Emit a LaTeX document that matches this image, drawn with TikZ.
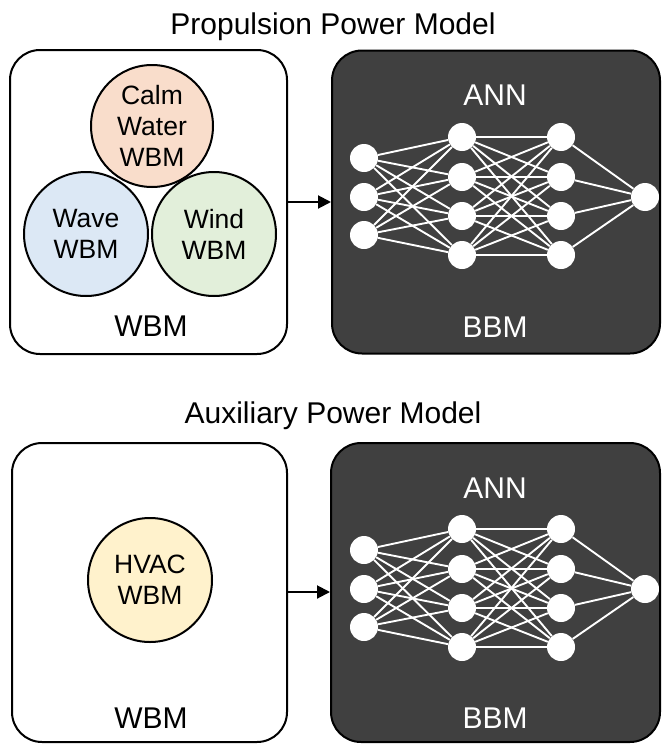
\documentclass[tikz,border=0pt]{standalone}
\usepackage{fontspec}
\setmainfont{Liberation Sans}
\usetikzlibrary{arrows.meta}

\definecolor{calmfill}{HTML}{F9DDCB}
\definecolor{wavefill}{HTML}{DCE8F5}
\definecolor{windfill}{HTML}{E2EFDA}
\definecolor{hvacfill}{HTML}{FFF2CC}
\definecolor{boxdark}{HTML}{404040}

\tikzset{
  whitebox/.style={draw=black, line width=2pt, fill=white, rounded corners=30pt,
    rectangle, inner sep=0pt},
  darkbox/.style={draw=black, line width=2pt, fill=boxdark, rounded corners=30pt,
    rectangle, inner sep=0pt},
  submodel/.style={circle, draw=black, line width=2pt, minimum size=124pt,
    inner sep=0pt, align=center, font=\fontsize{26.5}{31}\selectfont},
  title/.style={anchor=base, font=\fontsize{30}{36}\selectfont},
  boxlabel/.style={anchor=base, font=\fontsize{30}{36}\selectfont},
  neuron/.style={circle, fill=white, draw=none, minimum size=28pt, inner sep=0pt},
  synapse/.style={white, line width=1.9pt},
  flow/.style={line width=2pt, -{Triangle[length=13pt,width=13pt]}},
}

% Fully connected network 3-4-4-1; #1 = name prefix, #2 = vertical shift
\newcommand\drawnet[2]{%
  \foreach \k/\yy in {1/158,2/197,3/235}
    \node[neuron] (#1i\k) at (364,\yy+#2) {};
  \foreach \k/\yy in {1/137,2/177,3/216,4/255} {
    \node[neuron] (#1a\k) at (462,\yy+#2) {};
    \node[neuron] (#1b\k) at (561,\yy+#2) {};
  }
  \node[neuron] (#1o) at (645,197+#2) {};
  \foreach \i in {1,2,3}
    \foreach \j in {1,2,3,4}
      \draw[synapse] (#1i\i) -- (#1a\j);
  \foreach \i in {1,2,3,4}
    \foreach \j in {1,2,3,4}
      \draw[synapse] (#1a\i) -- (#1b\j);
  \foreach \i in {1,2,3,4}
    \draw[synapse] (#1b\i) -- (#1o);
}

\begin{document}
\begin{tikzpicture}[x=1pt, y=-1pt]
\useasboundingbox (0,0) rectangle (662,744);

% ---------------- Propulsion power model ----------------
\node[title] (ptitle) at (333,34) {Propulsion Power Model};

\node[whitebox, minimum width=277pt, minimum height=304pt] (pwbm) at (148.5,202) {};
\node[darkbox, minimum width=328pt, minimum height=303pt] (pbbm) at (496,202) {};

\node[submodel, fill=calmfill, minimum size=122pt] (calm) at (152,126) {Calm\\Water\\WBM};
\node[submodel, fill=wavefill] (wave) at (86,234) {Wave\\WBM};
\node[submodel, fill=windfill] (wind) at (214,234) {Wind\\WBM};

\node[boxlabel] (pwbmlabel) at (151,336) {WBM};
\node[boxlabel, text=white] (pann) at (495,105) {ANN};
\node[boxlabel, text=white] (pbbmlabel) at (495,337) {BBM};

\drawnet{p}{0}

\draw[flow] (pwbm.east |- 0,202) -- (pbbm.west |- 0,202);

% ---------------- Auxiliary power model ----------------
\node[title] (atitle) at (333,423) {Auxiliary Power Model};

\node[whitebox, minimum width=275pt, minimum height=299pt] (awbm) at (149.5,592.5) {};
\node[darkbox, minimum width=329pt, minimum height=299pt] (abbm) at (495.5,592.5) {};

\node[submodel, fill=hvacfill] (hvac) at (150,580) {HVAC\\WBM};

\node[boxlabel] (awbmlabel) at (151,728) {WBM};
\node[boxlabel, text=white] (aann) at (495,498) {ANN};
\node[boxlabel, text=white] (abbmlabel) at (495,728) {BBM};

\drawnet{a}{392}

\draw[flow] (awbm.east |- 0,592) -- (abbm.west |- 0,592);
\end{tikzpicture}
\end{document}
